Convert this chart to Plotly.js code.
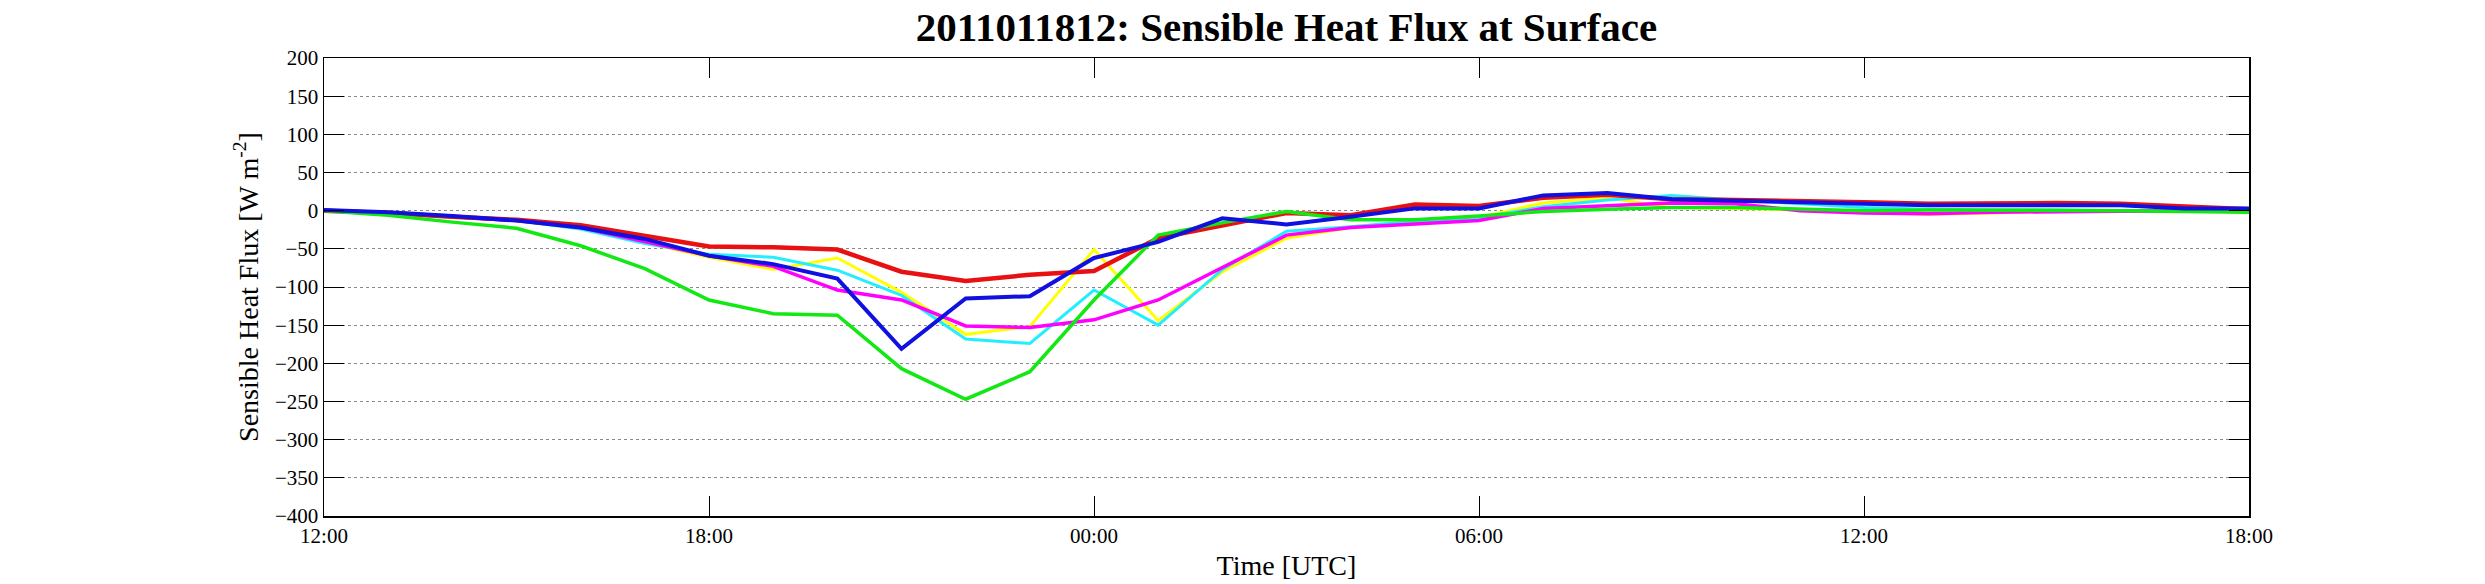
<!DOCTYPE html>
<html>
<head>
<meta charset="utf-8">
<script src="https://cdn.plot.ly/plotly-3.0.1.min.js"></script>
<style>
  html, body { margin: 0; padding: 0; background: #ffffff; }
  #plotFlux { width: 2485px; height: 584px; }
</style>
</head>
<body>
<div id="plotFlux"></div>
<script>
// Forecast hour since 2011-01-18 12:00 UTC
const hours = [0, 1, 2, 3, 4, 5, 6, 7, 8, 9, 10, 11, 12, 13, 14, 15,
  16, 17, 18, 19, 20, 21, 22, 23, 24, 25, 26, 27, 28, 29, 30];

// Sensible heat flux per member [W m-2]
const fluxYellow = [0, -3, -8, -13, -23, -42, -61, -77, -62, -107, -162, -152, -51, -144, -80, -36,
  -22, -14, -9, 10, 17, 4, 3, 1, -2, -5, -3, -1, 0, 0, -1];
const fluxCyan = [0, -3, -8, -13, -24, -43, -57, -61, -78, -111, -168, -174, -104, -150, -77, -27,
  -21, -14, -9, 5, 14, 20, 14, 9, 4, 2, 1, 1, 0, 0, -1];
const fluxMagenta = [0, -3, -8, -13, -22, -40, -59, -73, -104, -117, -151, -153, -143, -117, -75, -32,
  -22, -17, -13, 3, 7, 10, 9, 0, -3, -4, -2, -1, 0, 0, -1];
const fluxRed = [0, -3, -8, -12, -19, -33, -47, -48, -51, -80, -92, -84, -79, -36, -19, -3,
  -6, 8, 6, 17, 21, 15, 14, 13, 11, 9, 10, 10, 9, 5, 2];
const fluxGreen = [0, -6, -15, -23, -46, -76, -117, -135, -137, -207, -247, -211, -117, -32, -16, -1,
  -12, -12, -7, -1, 2, 4, 4, 2, 0, 1, 1, 1, 0, -1, -2];
const fluxBlue = [1, -2, -7, -13, -22, -37, -59, -70, -89, -181, -115, -112, -62, -41, -10, -18,
  -8, 3, 3, 20, 23, 15, 13, 11, 9, 7, 7, 7, 7, 3, 3];

const tickHours = [0, 6, 12, 18, 24, 30];
const tickLabels = ['12:00', '18:00', '00:00', '06:00', '12:00', '18:00'];

const serif = 'Liberation Serif, Times New Roman, serif';

// Draw order matters: blue ends up on top
const members = [
  { values: fluxYellow, color: '#ffff00', width: 3 },
  { values: fluxCyan, color: '#22eeff', width: 3 },
  { values: fluxMagenta, color: '#ff00ff', width: 3.5 },
  { values: fluxRed, color: '#e81010', width: 4.5 },
  { values: fluxGreen, color: '#12e812', width: 3.5 },
  { values: fluxBlue, color: '#1010e0', width: 4 },
];

const traces = members.map(member => ({
  x: hours,
  y: member.values,
  mode: 'lines',
  line: { color: member.color, width: member.width },
  hoverinfo: 'skip',
}));

const layout = {
  width: 2485,
  height: 584,
  paper_bgcolor: '#ffffff',
  plot_bgcolor: '#ffffff',
  showlegend: false,
  font: { family: serif, color: '#000000', size: 21 },
  margin: { l: 324, r: 236, t: 58, b: 68, pad: 0 },
  title: {
    text: '2011011812: Sensible Heat Flux at Surface',
    font: { family: serif, size: 41, weight: 'bold', color: '#000000' },
    x: 0.5,
    xref: 'paper',
    xanchor: 'center',
    y: 0.954,
    yref: 'container',
    yanchor: 'middle',
  },
  xaxis: {
    range: [0, 30],
    tickvals: tickHours,
    ticktext: tickLabels,
    ticks: 'inside',
    ticklen: 20,
    tickwidth: 1,
    tickcolor: '#000000',
    showline: true,
    linecolor: '#000000',
    linewidth: 1.5,
    mirror: 'ticks',
    showgrid: false,
    zeroline: false,
    tickfont: { family: serif, size: 21 },
    title: { text: 'Time [UTC]', font: { family: serif, size: 28 }, standoff: 8 },
  },
  yaxis: {
    range: [-400, 200],
    dtick: 50,
    ticks: 'inside',
    ticklen: 20,
    tickwidth: 1,
    tickcolor: '#000000',
    showline: true,
    linecolor: '#000000',
    linewidth: 1.5,
    mirror: 'ticks',
    showgrid: true,
    gridcolor: '#8a8a8a',
    gridwidth: 1,
    griddash: 'dot',
    zeroline: false,
    tickfont: { family: serif, size: 21 },
    title: { text: 'Sensible Heat Flux [W m<sup>-2</sup>]', font: { family: serif, size: 28 } },
  },
};

Plotly.newPlot('plotFlux', traces, layout, { staticPlot: true, displayModeBar: false });
</script>
</body>
</html>
